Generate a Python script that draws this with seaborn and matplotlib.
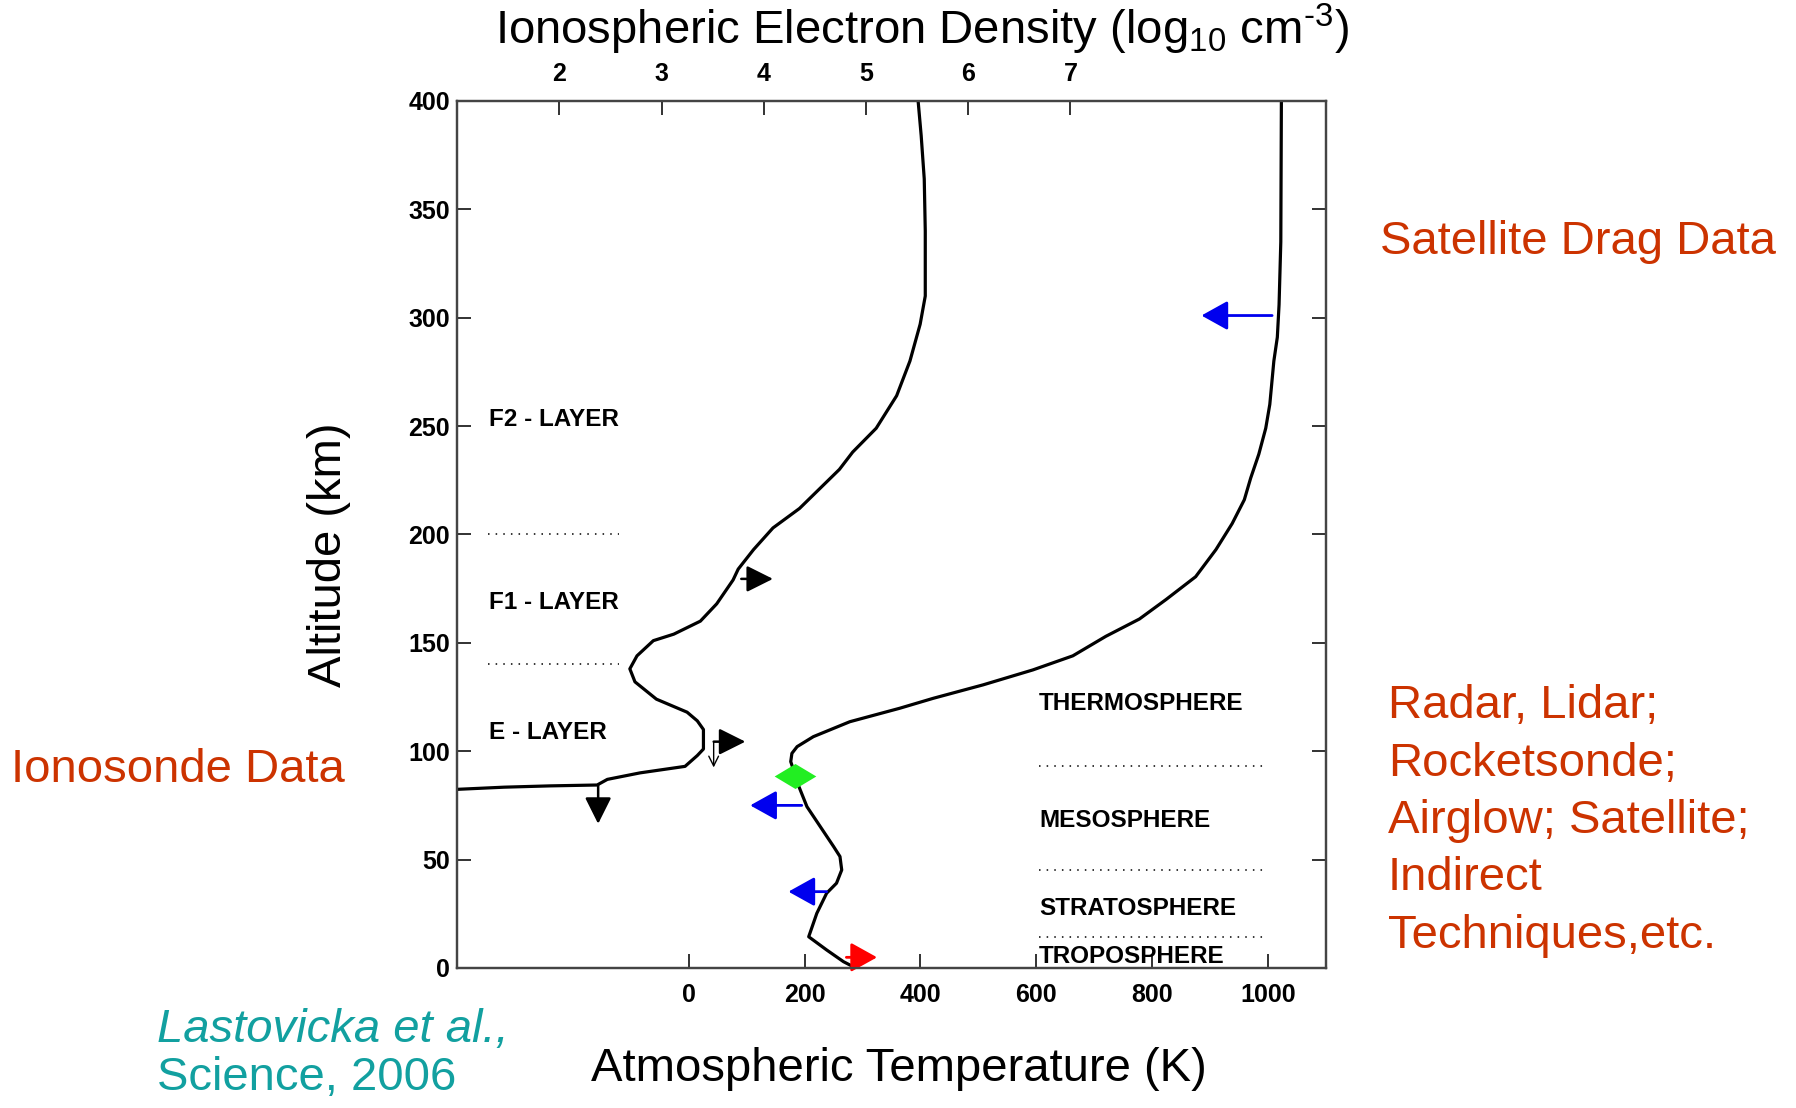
import matplotlib
matplotlib.use("Agg")
import matplotlib.pyplot as plt
import seaborn as sns
import pandas as pd

# electron density profile, altitude (km) vs log10 Ne (cm^-3)
ne_alt = [400, 384, 364, 340, 310, 297, 280, 264, 249, 238, 230, 212, 203, 193,
          184, 179, 168, 160, 154, 151, 144, 138, 132, 124, 118, 114, 110, 101,
          98, 93, 90, 87, 84.4, 84, 83.4, 82.4]
ne_log = [5.51, 5.54, 5.57, 5.58, 5.58, 5.53, 5.43, 5.30, 5.10, 4.87, 4.74, 4.35,
          4.09, 3.90, 3.75, 3.70, 3.54, 3.38, 3.12, 2.92, 2.76, 2.69, 2.74, 2.95,
          3.25, 3.35, 3.41, 3.41, 3.35, 3.23, 2.79, 2.47, 2.37, 1.91, 1.46, 1.0]

# neutral temperature profile, altitude (km) vs T (K)
t_alt = [400, 335, 306, 291, 280, 260, 249, 237, 226, 216, 205, 193, 180.5, 170,
         161, 153, 144, 137.5, 130.6, 124.4, 119.8, 113.6, 106.7, 102.1, 99, 95.2,
         88.7, 84.4, 74.4, 65.2, 56, 51.4, 45.2, 39.1, 34.5, 25.2, 14.4, 8.3, 2.9, 0]
t_val = [1023, 1022, 1019, 1016, 1010, 1003, 996, 984, 970, 959, 938, 910, 875, 824,
         778, 720, 663, 594, 508, 422, 364, 278, 215, 187, 178, 176,
         184, 189, 204, 227, 250, 261, 264, 255, 238, 221, 207, 238, 267, 288]

alt_ticks = [0, 50, 100, 150, 200, 250, 300, 350, 400]
temp_ticks = [0, 200, 400, 600, 800, 1000]
dens_ticks = [2, 3, 4, 5, 6, 7]

iono_layers = ["F2 - LAYER", "F1 - LAYER", "E - LAYER"]
iono_layer_alt = [253, 168.5, 108.5]
iono_bounds = [200, 140]

atmo_layers = ["THERMOSPHERE", "MESOSPHERE", "STRATOSPHERE", "TROPOSPHERE"]
atmo_layer_alt = [122, 68, 27.5, 5.5]
atmo_bounds = [93, 45, 14.2]

# observation markers (temperature coords)
blue_arrows = [(1007, 885, 301), (195, 106, 75), (238, 172, 35.2)]   # x_from, x_to, alt
red_arrow = (272, 325, 4.9)
green_point = (183.6, 88.7)

method_lines = ["Radar, Lidar;", "Rocketsonde;", "Airglow; Satellite;", "Indirect",
                "Techniques,etc."]

sns.set_style("white")
plt.rcParams["font.family"] = ["Liberation Sans", "DejaVu Sans"]
plt.rcParams["mathtext.fontset"] = "custom"
plt.rcParams["mathtext.rm"] = "Liberation Sans"
plt.rcParams["text.color"] = "black"
plt.rcParams["xtick.color"] = "#222222"
plt.rcParams["ytick.color"] = "#222222"
plt.rcParams["xtick.labelcolor"] = "black"
plt.rcParams["ytick.labelcolor"] = "black"

fig = plt.figure(figsize=(17.96, 11.08), dpi=100)
ax = fig.add_axes([0.2545, 0.1264, 0.4838, 0.7825])
ax2 = ax.twiny()

ax.set_xlim(-400, 1100)
ax.set_ylim(0, 400)
ax2.set_xlim(1.0, 9.5)

df_ne = pd.DataFrame({"dens": ne_log, "alt": ne_alt})
df_t = pd.DataFrame({"temp": t_val, "alt": t_alt})

sns.lineplot(data=df_ne, x="dens", y="alt", sort=False, estimator=None,
             color="black", lw=2.3, ax=ax2)
sns.lineplot(data=df_t, x="temp", y="alt", sort=False, estimator=None,
             color="black", lw=2.3, ax=ax)

# spines and ticks
for a in (ax, ax2):
    for s in a.spines.values():
        s.set_color("#444444")
        s.set_linewidth(1.6)

ax.set_yticks(alt_ticks)
ax.set_xticks(temp_ticks)
ax.tick_params(axis="y", direction="in", left=True, right=True, length=10,
               width=1.3, pad=5, labelsize=18)
ax.tick_params(axis="x", direction="in", bottom=True, top=False, length=10,
               width=1.3, pad=11, labelsize=18)
ax2.set_xticks(dens_ticks)
ax2.tick_params(axis="x", direction="in", top=True, bottom=False, length=10,
                width=1.3, pad=11, labelsize=18)
for lab in ax.get_xticklabels() + ax.get_yticklabels() + ax2.get_xticklabels():
    lab.set_fontweight("bold")
ax.set_xlabel("")
ax.set_ylabel("")
ax2.set_xlabel("")
ax2.set_ylabel("")

# layer boundaries (dotted) and labels
for b in iono_bounds:
    ax.plot([-347, -120], [b, b], color="black", lw=1.1, ls=(0, (1, 4)))
for name, y in zip(iono_layers, iono_layer_alt):
    ax.text(-345, y, name, fontsize=17.5, fontweight="bold", ha="left", va="center")
for b in atmo_bounds:
    ax.plot([605, 1000], [b, b], color="black", lw=1.1, ls=(0, (1, 4)))
for name, y in zip(atmo_layers, atmo_layer_alt):
    ax.text(605, y, name, fontsize=17.5, fontweight="bold", ha="left", va="center")

# black arrows on the ionosphere profile
black_head = dict(arrowstyle="-|>,head_length=0.9,head_width=0.45", color="black",
                  lw=1.8, shrinkA=0, shrinkB=0, mutation_scale=18)
ax2.annotate("", xy=(4.09, 179.5), xytext=(3.78, 179.5), arrowprops=black_head)
ax2.annotate("", xy=(2.38, 66.5), xytext=(2.38, 84.4), arrowprops=black_head)
ax2.annotate("", xy=(3.82, 104.4), xytext=(3.51, 104.4), arrowprops=black_head)
ax2.annotate("", xy=(3.51, 92.5), xytext=(3.51, 104.4),
             arrowprops=dict(arrowstyle="->,head_length=0.5,head_width=0.25",
                             color="black", lw=1.0, shrinkA=0, shrinkB=0,
                             mutation_scale=14))

# coloured markers on the temperature profile
blue_head = dict(arrowstyle="-|>,head_length=0.9,head_width=0.5", color="#0000ee",
                 lw=2.0, shrinkA=0, shrinkB=0, mutation_scale=18)
for x0, x1, y in blue_arrows:
    ax.annotate("", xy=(x1, y), xytext=(x0, y), arrowprops=blue_head)
red_head = dict(blue_head, color="#ff0000")
ax.annotate("", xy=(red_arrow[1], red_arrow[2]), xytext=(red_arrow[0], red_arrow[2]),
            arrowprops=red_head)
sns.scatterplot(x=[green_point[0]], y=[green_point[1]], ax=ax, color="#22ee22",
                marker=[(-1, 0), (0, 0.6), (1, 0), (0, -0.6)], s=900,
                edgecolor="#22ee22", linewidth=0, zorder=5)

# axis titles and annotations around the plot
fs = 34
fig.text(922 / 1796, 1 - 29 / 1108,
         r"Ionospheric Electron Density (log$_{\rm 10}$ cm$^{\text{-3}}$)",
         fontsize=fs, ha="center", va="center")
fig.text(899 / 1796, 1 - 1069 / 1108, "Atmospheric Temperature (K)",
         fontsize=fs, ha="center", va="center")
fig.text(329 / 1796, 1 - 555 / 1108, "Altitude (km)", fontsize=fs,
         rotation=90, ha="center", va="center")

orange = "#cc3300"
fig.text(1380 / 1796, 1 - 242 / 1108, "Satellite Drag Data", fontsize=fs,
         color=orange, ha="left", va="center")
fig.text(11 / 1796, 1 - 770 / 1108, "Ionosonde Data", fontsize=fs,
         color=orange, ha="left", va="center")
for i, line in enumerate(method_lines):
    fig.text(1388 / 1796, 1 - (706 + i * 57.5) / 1108, line, fontsize=fs,
             color=orange, ha="left", va="center")

teal = "#12a0a0"
fig.text(157 / 1796, 1 - 1030 / 1108, "Lastovicka et al.,", fontsize=fs,
         color=teal, style="italic", ha="left", va="center")
fig.text(157 / 1796, 1 - 1078 / 1108, "Science, 2006", fontsize=fs,
         color=teal, ha="left", va="center")

fig.savefig("out.png", dpi=100, facecolor="white")
